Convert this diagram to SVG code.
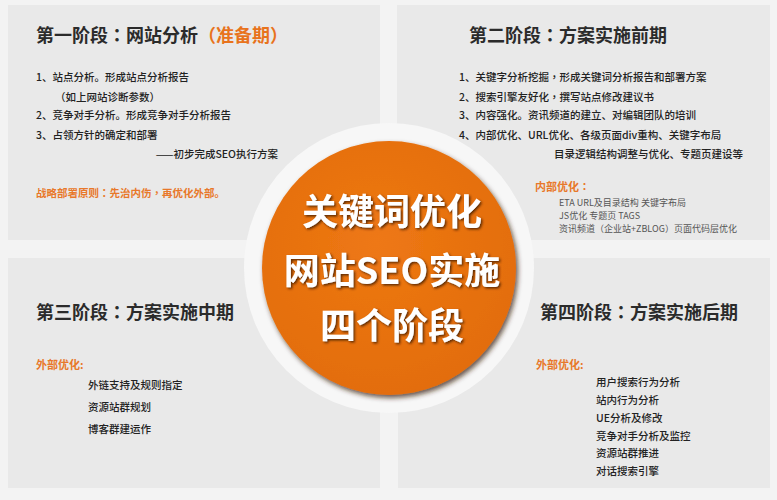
<svg xmlns="http://www.w3.org/2000/svg" width="777" height="500" viewBox="0 0 777 500">
<defs>
<style>
text{font-family:"Noto Sans CJK SC","Noto Sans",sans-serif;}
.p{font-family:"Noto Sans CJK TC","Noto Sans CJK SC",sans-serif;}
.panel{fill:#e9e9e9;}
.title{font-size:18px;font-weight:bold;fill:#2b2b2b;}
.item{font-size:10.5px;font-weight:500;fill:#222;}
.sub{font-size:9px;fill:#555;}
.or{fill:#e8731c;}
.orh{font-size:11px;font-weight:bold;fill:#e8782a;}
.big{font-size:36px;font-weight:bold;fill:#ffffff;text-anchor:middle;}
</style>
<radialGradient id="og" cx="0.45" cy="0.4" r="0.65">
<stop offset="0" stop-color="#ee7814"/>
<stop offset="1" stop-color="#e26c0a"/>
</radialGradient>
<filter id="cs" x="-20%" y="-20%" width="140%" height="140%">
<feDropShadow dx="2" dy="3" stdDeviation="2.5" flood-color="#3a2008" flood-opacity="0.75"/>
</filter>
<filter id="ts" x="-10%" y="-20%" width="120%" height="140%">
<feDropShadow dx="1.5" dy="1.5" stdDeviation="1" flood-color="#4a2000" flood-opacity="0.85"/>
</filter>
</defs>
<rect x="0" y="0" width="777" height="500" fill="#f3f3f3"/>
<g id="stage1">
<rect class="panel" x="8" y="5" width="372" height="235"/>
<text class="title" x="36" y="41.5">第一阶段<tspan class="p">：</tspan>网站分析<tspan class="or"><tspan class="p">（</tspan>准备期<tspan class="p">）</tspan></tspan></text>
<text class="item" x="36" y="81">1、站点分析。形成站点分析报告</text>
<text class="item" x="55" y="101"><tspan class="p">（</tspan>如上网站诊断参数<tspan class="p">）</tspan></text>
<text class="item" x="36" y="119">2、竞争对手分析。形成竞争对手分析报告</text>
<text class="item" x="36" y="139">3、占领方针的确定和部署</text>
<text class="item" x="278" y="158" text-anchor="end">——初步完成SEO执行方案</text>
<text class="item" x="36" y="197" style="fill:#e8782a;font-weight:bold">战略部署原则<tspan class="p">：</tspan>先治内伤<tspan class="p">，</tspan>再优化外部。</text>
</g>
<g id="stage2">
<rect class="panel" x="397" y="5" width="373" height="235"/>
<text class="title" x="469" y="41.5">第二阶段<tspan class="p">：</tspan>方案实施前期</text>
<text class="item" x="459" y="81">1、关键字分析挖掘<tspan class="p">，</tspan>形成关键词分析报告和部署方案</text>
<text class="item" x="459" y="101">2、搜索引擎友好化<tspan class="p">，</tspan>撰写站点修改建议书</text>
<text class="item" x="459" y="119">3、内容强化。资讯频道的建立、对编辑团队的培训</text>
<text class="item" x="459" y="139">4、内部优化、URL优化、各级页面div重构、关键字布局</text>
<text class="item" x="554" y="158">目录逻辑结构调整与优化、专题页建设等</text>
<text class="orh" x="535" y="191">内部优化<tspan class="p">：</tspan></text>
<text class="sub" x="559" y="205.5">ETA URL及目录结构 关键字布局</text>
<text class="sub" x="559" y="218.5">JS优化 专题页 TAGS</text>
<text class="sub" x="559" y="231.5">资讯频道<tspan class="p">（</tspan>企业站+ZBLOG<tspan class="p">）</tspan>页面代码层优化</text>
</g>
<g id="stage3">
<rect class="panel" x="8" y="258" width="372" height="230"/>
<text class="title" x="36" y="318.5">第三阶段<tspan class="p">：</tspan>方案实施中期</text>
<text class="orh" x="36" y="369">外部优化:</text>
<text class="item" x="88" y="389">外链支持及规则指定</text>
<text class="item" x="88" y="411">资源站群规划</text>
<text class="item" x="88" y="433">博客群建运作</text>
</g>
<g id="stage4">
<rect class="panel" x="398" y="258" width="372" height="230"/>
<text class="title" x="540" y="318.5">第四阶段<tspan class="p">：</tspan>方案实施后期</text>
<text class="orh" x="536" y="369">外部优化:</text>
<text class="item" x="596" y="386">用户搜索行为分析</text>
<text class="item" x="596" y="404">站内行为分析</text>
<text class="item" x="596" y="422">UE分析及修改</text>
<text class="item" x="596" y="440">竞争对手分析及监控</text>
<text class="item" x="596" y="457">资源站群推进</text>
<text class="item" x="596" y="475">对话搜索引擎</text>
</g>
<g id="connectors"></g>
<g id="center">
<circle cx="389" cy="268" r="145" fill="#f7f7f7"/>
<circle cx="389" cy="268" r="127" fill="url(#og)" filter="url(#cs)"/>
<g filter="url(#ts)">
<text class="big" x="392" y="225">关键词优化</text>
<text class="big" x="392" y="284">网站SEO实施</text>
<text class="big" x="392" y="339">四个阶段</text>
</g>
</g>
</svg>
